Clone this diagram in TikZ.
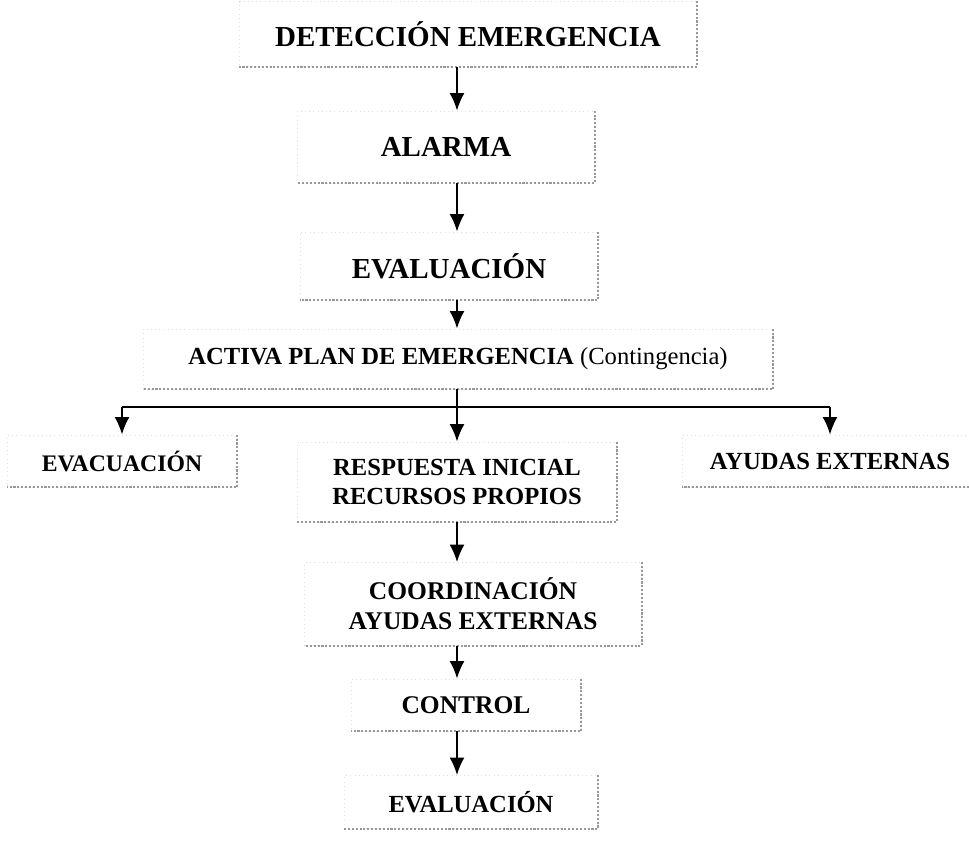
\documentclass[tikz,border=0pt]{standalone}
\usepackage{fontspec}
\setmainfont{Liberation Serif}
\usetikzlibrary{arrows.meta, positioning}

\begin{document}
\begin{tikzpicture}[x=0.02cm, y=-0.02cm]

\tikzset{caja/.style = {shape=rectangle, draw=gray!25, dotted, inner sep=0pt, align=center, font=\bfseries}}
\tikzset{sombra/.style = {draw=gray!80, densely dotted, line width=1.2pt}}
\tikzset{flecha/.style = {-{Latex[length=10pt,width=8.5pt]}, line width=1.1pt}}
\useasboundingbox (0,0) rectangle (969,852);
% cajas
\node[caja, minimum width=9.14cm, minimum height=1.3cm, font=\fontsize{16.5}{18}\bfseries] (deteccion) at (468,34) {DETECCIÓN EMERGENCIA};
\node[caja, minimum width=5.94cm, minimum height=1.44cm, font=\fontsize{16.5}{18}\bfseries] (alarma) at (446,147) {ALARMA};
\node[caja, minimum width=5.96cm, minimum height=1.36cm, font=\fontsize{16.5}{18}\bfseries] (evaluacion) at (449,266) {EVALUACIÓN};
\node[caja, minimum width=12.6cm, minimum height=1.2cm, font=\fontsize{14}{16}\bfseries] (activa) at (458,359) {ACTIVA PLAN DE EMERGENCIA \textmd{(Contingencia)}};
\node[caja, minimum width=4.6cm, minimum height=1.04cm, font=\fontsize{13.5}{16}\bfseries] (evacuacion) at (122,461) {EVACUACIÓN};
\node[caja, minimum width=6.38cm, minimum height=1.6cm, font=\fontsize{14}{16}\bfseries] (respuesta) at (457,482) {RESPUESTA INICIAL\\RECURSOS PROPIOS};
\node[caja, minimum width=5.9cm, minimum height=1.04cm, font=\fontsize{14}{16}\bfseries] (ayudas) at (830,461) {AYUDAS EXTERNAS};
\node[caja, minimum width=6.74cm, minimum height=1.66cm, font=\fontsize{14.5}{17}\bfseries] (coordinacion) at (473,604) {COORDINACIÓN\\AYUDAS EXTERNAS};
\node[caja, minimum width=4.6cm, minimum height=1.04cm, font=\fontsize{14.5}{17}\bfseries] (control) at (466,705) {CONTROL};
\node[caja, minimum width=5.06cm, minimum height=1.06cm, font=\fontsize{14}{16}\bfseries] (evaluacionb) at (471,802) {EVALUACIÓN};
% sombras
\foreach \c in {deteccion, alarma, evaluacion, activa, evacuacion, respuesta, ayudas, coordinacion, control, evaluacionb}
  \draw[sombra] (\c.north east) -- (\c.south east) -- (\c.south west);
% eje y ramal
\coordinate (eje) at (457,0);
\coordinate (ramal) at (457,407);
% flechas
\draw[flecha] (deteccion.south -| eje) -- (alarma.north -| eje);
\draw[flecha] (alarma.south -| eje) -- (evaluacion.north -| eje);
\draw[flecha] (evaluacion.south -| eje) -- (activa.north -| eje);
\draw[line width=1pt] (activa.south -| eje) -- (ramal);
\draw[line width=1.4pt] (evacuacion.north |- ramal) -- (ayudas.north |- ramal);
\draw[flecha] (evacuacion.north |- ramal) -- (evacuacion.north);
\draw[flecha] (ramal) -- (respuesta.north -| eje);
\draw[flecha] (ayudas.north |- ramal) -- (ayudas.north);
\draw[flecha] (respuesta.south -| eje) -- (coordinacion.north -| eje);
\draw[flecha] (coordinacion.south -| eje) -- (control.north -| eje);
\draw[flecha] (control.south -| eje) -- (evaluacionb.north -| eje);
\end{tikzpicture}
\end{document}
